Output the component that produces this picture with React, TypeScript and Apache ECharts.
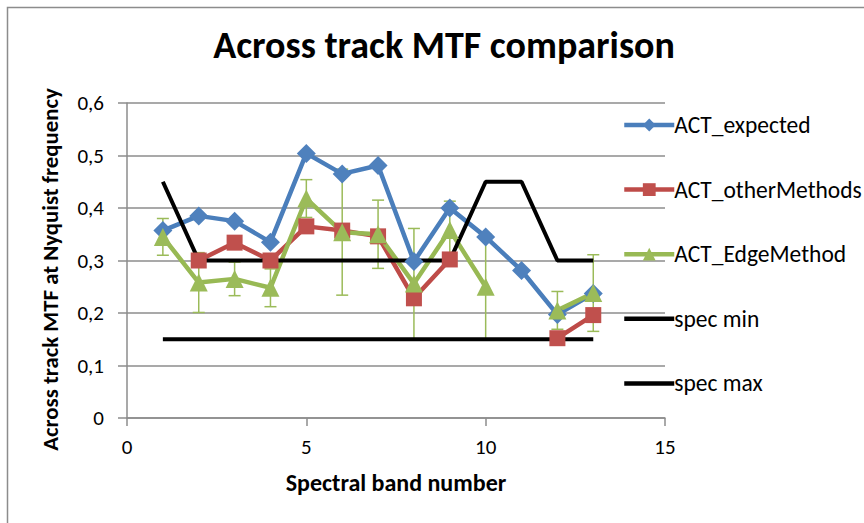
import React, { useEffect, useRef } from "react";
import * as echarts from "echarts";

const bands = [1, 2, 3, 4, 5, 6, 7, 8, 9, 10, 11, 12, 13];
const actExpected = [0.357, 0.385, 0.375, 0.335, 0.504, 0.465, 0.481, 0.298, 0.4, 0.345, 0.281, 0.197, 0.237];
const actOtherMethods = [null, 0.3, 0.334, 0.3, 0.365, 0.357, 0.346, 0.228, 0.302, null, null, 0.152, 0.196];
const actEdgeMethod = [0.345, 0.258, 0.265, 0.248, 0.418, 0.354, 0.35, 0.256, 0.358, 0.25, null, 0.205, 0.238];
const edgeError = [0.035, 0.057, 0.032, 0.036, 0.036, 0.12, 0.065, 0.105, 0.055, 0.1, null, 0.036, 0.073];
const specMin = [0.15, 0.15, 0.15, 0.15, 0.15, 0.15, 0.15, 0.15, 0.15, 0.15, 0.15, 0.15, 0.15];
const specMax = [0.45, 0.3, 0.3, 0.3, 0.3, 0.3, 0.3, 0.3, 0.3, 0.45, 0.45, 0.3, 0.3];
const seriesNames = ["ACT_expected", "ACT_otherMethods", "ACT_EdgeMethod", "spec min", "spec max"];

const FONT = "Carlito, Lato, sans-serif";
const BLUE = "#4A7EBB";
const RED = "#BE4B48";
const GREEN = "#98B954";

const pairs = (vals: (number | null)[]) => bands.map((b, i) => [b, vals[i] == null ? "-" : vals[i]]);

export default function App() {
  const ref = useRef<HTMLDivElement>(null);
  useEffect(() => {
    if (!ref.current) return;
    const chart = echarts.init(ref.current, null, { renderer: "svg" });
    const errData = bands
      .map((b, i) => (actEdgeMethod[i] == null ? null : [b, (actEdgeMethod[i] as number) - (edgeError[i] as number), (actEdgeMethod[i] as number) + (edgeError[i] as number)]))
      .filter((d) => d != null);
    chart.setOption({
      animation: false,
      backgroundColor: "#ffffff",
      textStyle: { fontFamily: FONT },
      title: {
        text: "Across track MTF comparison",
        left: 439,
        top: 21,
        textAlign: "center",
        textStyle: { fontFamily: FONT, fontSize: 38, fontWeight: "bold", color: "#000" },
      },
      graphic: [
        {
          type: "rect",
          shape: { x: 7.5, y: 7.5, width: 900, height: 600 },
          style: { fill: "none", stroke: "#8c8c8c", lineWidth: 1.5 },
          silent: true,
        },
      ],
      grid: { left: 127, top: 103, width: 538, height: 315 },
      legend: {
        orient: "vertical",
        left: 617,
        top: 108,
        data: seriesNames.map((n) => (n.startsWith("spec") ? { name: n, itemStyle: { opacity: 0 } } : { name: n })),
        itemWidth: 50,
        itemHeight: 16,
        itemGap: 40.6,
        lineStyle: { width: 4.5 },
        textStyle: { fontFamily: FONT, fontSize: 23.5, color: "#000", lineHeight: 23.5, padding: [0, 0, 0, -5] },
      },
      xAxis: {
        type: "value",
        min: 0,
        max: 15,
        interval: 5,
        name: "Spectral band number",
        nameLocation: "middle",
        nameGap: 52,
        nameTextStyle: { fontFamily: FONT, fontSize: 24, fontWeight: "bold", color: "#000" },
        axisLine: { lineStyle: { color: "#8c8c8c", width: 1.5 } },
        axisTick: { length: 8, lineStyle: { color: "#8c8c8c", width: 1.5 } },
        axisLabel: { fontFamily: FONT, fontSize: 21, color: "#000", margin: 18 },
        splitLine: { show: false },
      },
      yAxis: {
        type: "value",
        min: 0,
        max: 0.6,
        interval: 0.1,
        name: "Across track MTF at Nyquist frequency",
        nameLocation: "middle",
        nameGap: 66,
        nameRotate: 90,
        nameTextStyle: { fontFamily: FONT, fontSize: 22.8, fontWeight: "bold", color: "#000", padding: [0, 18, 0, 0] },
        axisLine: { show: true, lineStyle: { color: "#8c8c8c", width: 1.5 } },
        axisTick: { show: true, length: 9, lineStyle: { color: "#8c8c8c", width: 1.5 } },
        axisLabel: {
          fontFamily: FONT,
          fontSize: 21,
          color: "#000",
          margin: 23,
          formatter: (v: number) => (v === 0 ? "0" : v.toFixed(1).replace(".", ",")),
        },
        splitLine: { show: true, lineStyle: { color: "#8c8c8c", width: 1.5 } },
      },
      series: [
        {
          name: "ACT_expected",
          type: "line",
          data: pairs(actExpected),
          symbol: "diamond",
          symbolSize: 19,
          lineStyle: { color: BLUE, width: 4.5 },
          itemStyle: { color: "#4F81BD" },
        },
        {
          name: "ACT_otherMethods",
          type: "line",
          data: pairs(actOtherMethods),
          symbol: "rect",
          symbolSize: 16,
          connectNulls: false,
          lineStyle: { color: RED, width: 4.5 },
          itemStyle: { color: "#C0504D" },
        },
        {
          name: "errorbars",
          type: "custom",
          data: errData,
          encode: { x: 0, y: [1, 2] },
          silent: true,
          renderItem: (params: any, api: any) => {
            const x = api.value(0);
            const lo = api.coord([x, api.value(1)]);
            const hi = api.coord([x, api.value(2)]);
            const hw = 6;
            const style = { stroke: "#9BBB59", lineWidth: 1.5, fill: "none" };
            return {
              type: "group",
              children: [
                { type: "line", shape: { x1: lo[0], y1: lo[1], x2: hi[0], y2: hi[1] }, style },
                { type: "line", shape: { x1: lo[0] - hw, y1: lo[1], x2: lo[0] + hw, y2: lo[1] }, style },
                { type: "line", shape: { x1: hi[0] - hw, y1: hi[1], x2: hi[0] + hw, y2: hi[1] }, style },
              ],
            };
          },
        },
        {
          name: "ACT_EdgeMethod",
          type: "line",
          data: pairs(actEdgeMethod),
          symbol: "triangle",
          symbolSize: 18,
          connectNulls: false,
          lineStyle: { color: GREEN, width: 4.5 },
          itemStyle: { color: "#9BBB59" },
        },
        {
          name: "spec min",
          type: "line",
          data: pairs(specMin),
          symbol: "none",
          lineStyle: { color: "#000", width: 4 },
          itemStyle: { color: "#000" },
        },
        {
          name: "spec max",
          type: "line",
          data: pairs(specMax),
          symbol: "none",
          lineStyle: { color: "#000", width: 4 },
          itemStyle: { color: "#000" },
        },
      ],
    });
    return () => chart.dispose();
  }, []);
  return (
    <div
      ref={ref}
      style={{ position: "absolute", left: 0, top: 0, width: 864, height: 523, background: "#fff" }}
    />
  );
}
